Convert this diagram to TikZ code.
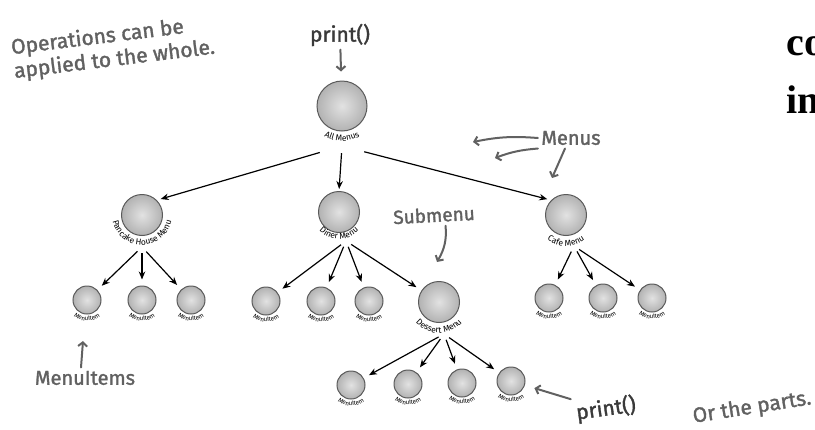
\documentclass[tikz,border=0pt]{standalone}
\usepackage{fontspec}
\setmainfont{Liberation Serif}
\setsansfont{Fira Sans}
\newfontfamily\handfont[FakeBold=1.6]{Fira Sans}
\definecolor{HFgray}{HTML}{616161}
\definecolor{HFdark}{HTML}{3A3A3A}
\definecolor{HFball}{HTML}{E2E2E2}
\definecolor{HFballEdge}{HTML}{B2B2B2}
\definecolor{HFrim}{HTML}{5A5A5A}
\usetikzlibrary{arrows.meta, positioning, calc, decorations.text}
\newcommand{\menufont}{\sffamily\fontsize{8.5}{9}\selectfont}
\newcommand{\itemfont}{\sffamily\fontsize{6.3}{7}\selectfont}
% name bent round the lower half of a ball
\newcommand{\arcname}[4]{%
  \path[decorate, decoration={text along path, text align=center, text={|#4|#3}}]
    ($(#1)+(180:#2)$) arc[start angle=180, end angle=360, radius=#2];}

\begin{document}
\begin{tikzpicture}[x=1pt, y=1pt,
    ball/.style={circle, draw=HFrim, line width=1pt, inner sep=0pt, inner color=HFball, outer color=HFballEdge},
    bigball/.style={ball, minimum size=50pt},
    menuball/.style={ball, minimum size=41pt},
    itemball/.style={ball, minimum size=28pt},
    foot/.style={circle, minimum size=12pt, inner sep=0pt},
    link/.style={-{Stealth[length=8pt, width=6.5pt]}, line width=1.2pt, shorten >=6pt},
    note/.style={draw=HFgray, line width=2pt, line cap=round, -{Straight Barb[length=4pt, width=9pt]}},
    hand/.style={text=HFgray, font=\handfont\fontsize{#1}{#1}\selectfont},
    hand/.default=20]
\useasboundingbox (0,0) rectangle (815,-429);

% the tree
\node[bigball] (all) at (342,-106) {};
\node[menuball] (pancake) at (142,-215) {};
\node[menuball] (diner) at (339,-212) {};
\node[menuball] (cafe) at (566,-215) {};
\node[menuball] (dessert) at (439,-302) {};

\node[itemball] (p1) at (87,-300) {};
\node[itemball] (p2) at (142,-300) {};
\node[itemball] (p3) at (191,-300) {};
\node[itemball] (d1) at (266,-301) {};
\node[itemball] (d2) at (321,-301) {};
\node[itemball] (d3) at (369,-301) {};
\node[itemball] (c1) at (549,-298) {};
\node[itemball] (c2) at (603,-298) {};
\node[itemball] (c3) at (652,-298) {};
\node[itemball] (s1) at (351,-385) {};
\node[itemball] (s2) at (408,-384) {};
\node[itemball] (s3) at (462,-383) {};
\node[itemball] (s4) at (511,-381) {};

% names under the balls
\arcname{all}{35}{All Menus}{\menufont}
\arcname{pancake}{30}{Pancake House Menu}{\menufont}
\arcname{diner}{27}{Diner Menu}{\menufont}
\arcname{cafe}{31}{Cafe Menu}{\menufont}
\arcname{dessert}{31}{Dessert Menu}{\menufont}
\arcname{p1}{21}{MenuItem}{\itemfont}
\arcname{p2}{21}{MenuItem}{\itemfont}
\arcname{p3}{21}{MenuItem}{\itemfont}
\arcname{d1}{21}{MenuItem}{\itemfont}
\arcname{d2}{21}{MenuItem}{\itemfont}
\arcname{d3}{21}{MenuItem}{\itemfont}
\arcname{c1}{21}{MenuItem}{\itemfont}
\arcname{c2}{21}{MenuItem}{\itemfont}
\arcname{c3}{21}{MenuItem}{\itemfont}
\arcname{s1}{21}{MenuItem}{\itemfont}
\arcname{s2}{21}{MenuItem}{\itemfont}
\arcname{s3}{21}{MenuItem}{\itemfont}
\arcname{s4}{21}{MenuItem}{\itemfont}

% where the arrows leave each menu
\node[foot, rectangle, minimum width=44pt, minimum height=14pt] (allFoot) at (342,-146) {};
\node[foot] (pancakeFoot) at (142,-247) {};
\node[foot] (dinerFoot) at (346,-241) {};
\node[foot] (cafeFoot) at (574,-246) {};
\node[foot] (dessertFoot) at (444,-334) {};

\draw[link, shorten >=4pt] (allFoot) -- (pancake.north east);
\draw[link, shorten >=2pt] (allFoot) -- (diner.north);
\draw[link, shorten >=4pt] (allFoot) -- (cafe.north west);
\draw[link] (pancakeFoot) -- (p1);
\draw[link] (pancakeFoot) -- (p2);
\draw[link] (pancakeFoot) -- (p3);
\draw[link] (dinerFoot) -- (d1);
\draw[link] (dinerFoot) -- (d2);
\draw[link] (dinerFoot) -- (d3);
\draw[link] (dinerFoot) -- (dessert);
\draw[link] (cafeFoot) -- (c1);
\draw[link] (cafeFoot) -- (c2);
\draw[link] (cafeFoot) -- (c3);
\draw[link] (dessertFoot) -- (s1);
\draw[link] (dessertFoot) -- (s2);
\draw[link] (dessertFoot) -- (s3);
\draw[link] (dessertFoot) -- (s4);

% hand notes
\node[hand=21, align=left, rotate=7] (wholeNote) at (113,-48) {Operations can be\\[3pt]applied to the whole.};
\node[hand=21, text=HFdark] (printTop) at (340,-35) {print()};
\node[hand] (menusNote) at (571,-138) {Menus};
\node[hand=19, rotate=3] (subNote) at (434,-215) {Submenu};
\node[hand] (itemsNote) at (85,-378) {MenuItems};
\node[hand=21, text=HFdark, rotate=8] (printBot) at (606,-409) {print()};
\node[hand=21, rotate=9] (partsNote) at (752,-408) {Or the parts.};

\coordinate (menusTipA) at (473,-142);
\coordinate (menusTipB) at (495,-158);
\coordinate (menusTipC) at (552,-178);
\coordinate (subTip) at (437,-262);
\coordinate (itemsTip) at (83,-341);

\draw[note, shorten >=9pt] (printTop) -- (all);
\draw[note] (menusNote.west) to[bend right=8] (menusTipA);
\draw[note] (menusNote.south west) to[bend right=8] (menusTipB);
\draw[note] ([xshift=-6pt]menusNote.south) -- (menusTipC);
\draw[note] ([xshift=11pt]subNote.south) to[out=-85, in=60] (subTip);
\draw[note] ([xshift=-4pt]itemsNote.north) -- (itemsTip);
\draw[note, shorten >=10pt] (printBot.north west) -- (s4);

% text running in from the right
\node[anchor=base west, font=\bfseries\fontsize{40}{40}\selectfont] (coText) at (783,-55) {co};
\node[anchor=base west, font=\bfseries\fontsize{40}{40}\selectfont] (inText) at (783,-113) {in};
\end{tikzpicture}
\end{document}
